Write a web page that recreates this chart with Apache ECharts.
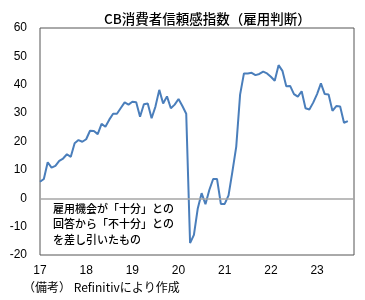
<!DOCTYPE html>
<html><head><meta charset="utf-8">
<script src="https://cdn.jsdelivr.net/npm/echarts@6/dist/echarts.min.js"></script>
<style>html,body{margin:0;padding:0;background:#fff}#c{width:365px;height:300px}</style>
</head><body><div id="c"></div>
<script>
// Monthly, Jan 2017 .. Sep 2023
const months = [];
for (let y = 2017; y <= 2023; y++) for (let m = 1; m <= 12; m++) months.push(y + '/' + m);
const values = [
  5.8, 6.8, 12.7, 10.8, 11.4, 13.2, 14.0, 15.5, 14.6, 19.4, 20.5, 19.9,
  20.8, 23.8, 23.7, 22.6, 26.2, 25.2, 27.7, 29.8, 29.8, 31.8, 33.8, 33.0,
  34.0, 33.8, 28.7, 33.1, 33.4, 28.2, 32.3, 38.2, 33.4, 35.9, 31.7, 33.0,
  35.0, 32.5, 29.8, -15.8, -12.9, -3.6, 1.8, -2.1, 2.9, 6.8,
  6.8, -2.0, -2.0, 1.0, 9.4, 18.2, 36.5, 44.0, 44.0, 44.2, 43.4, 43.8,
  44.6, 44.0, 42.8, 41.4, 46.9, 44.9, 39.5, 39.6, 36.7, 35.8, 37.7, 31.7,
  31.3, 33.7, 36.7, 40.5, 36.7, 36.6, 30.8, 32.5, 32.3, 26.6, 27.2
];
const yearLabels = ['17', '18', '19', '20', '21', '22', '23'];
const titleText = 'CB消費者信頼感指数（雇用判断）';
const noteLines = ['雇用機会が「十分」との', '回答から「不十分」との', 'を差し引いたもの'];
const sourceText = '（備考） Refinitivにより作成';

const seriesData = values.map((v, i) => [i, v]);
const chart = echarts.init(document.getElementById('c'), null, {renderer: 'canvas'});
const jp = '"Noto Sans CJK JP", sans-serif';
chart.setOption({
  animation: false,
  backgroundColor: '#fff',
  title: {
    text: titleText, left: 99, top: 7,
    textStyle: {fontFamily: jp, fontSize: 13.5, fontWeight: 500, color: '#000'}
  },
  grid: {left: 40, right: 11, top: 28, bottom: 45, show: true, borderColor: '#555', borderWidth: 1},
  xAxis: {
    type: 'value', min: 0, max: 81.6, interval: 12,
    axisLine: {show: false}, axisTick: {show: false}, splitLine: {show: false},
    axisLabel: {
      showMaxLabel: false, margin: 10, color: '#000', fontSize: 12,
      fontFamily: 'Liberation Sans, Arial, sans-serif',
      formatter: v => (v % 12 === 0 ? yearLabels[v / 12] || '' : '')
    }
  },
  yAxis: {
    type: 'value', min: -20, max: 60, interval: 10,
    axisLine: {show: false}, axisTick: {show: false}, splitLine: {show: false},
    axisLabel: {margin: 13, color: '#000', fontSize: 12, fontFamily: 'Liberation Sans, Arial, sans-serif'}
  },
  series: [{
    type: 'line', data: seriesData, showSymbol: false, symbol: 'none',
    lineStyle: {color: '#4a7ebb', width: 2},
    markLine: {
      silent: true, symbol: 'none', label: {show: false},
      lineStyle: {color: '#a6a6a6', type: 'solid', width: 1.5},
      data: [{yAxis: 0}]
    },
    z: 3
  }],
  graphic: [{
    type: 'text', left: 53, top: 201,
    style: {text: noteLines.join('\n'), font: '500 11px ' + jp, lineHeight: 15.5, fill: '#000'}
  }, {
    type: 'text', left: 23, top: 281,
    style: {text: sourceText, font: '12px ' + jp, fill: '#000'}
  }]
});
</script></body></html>
